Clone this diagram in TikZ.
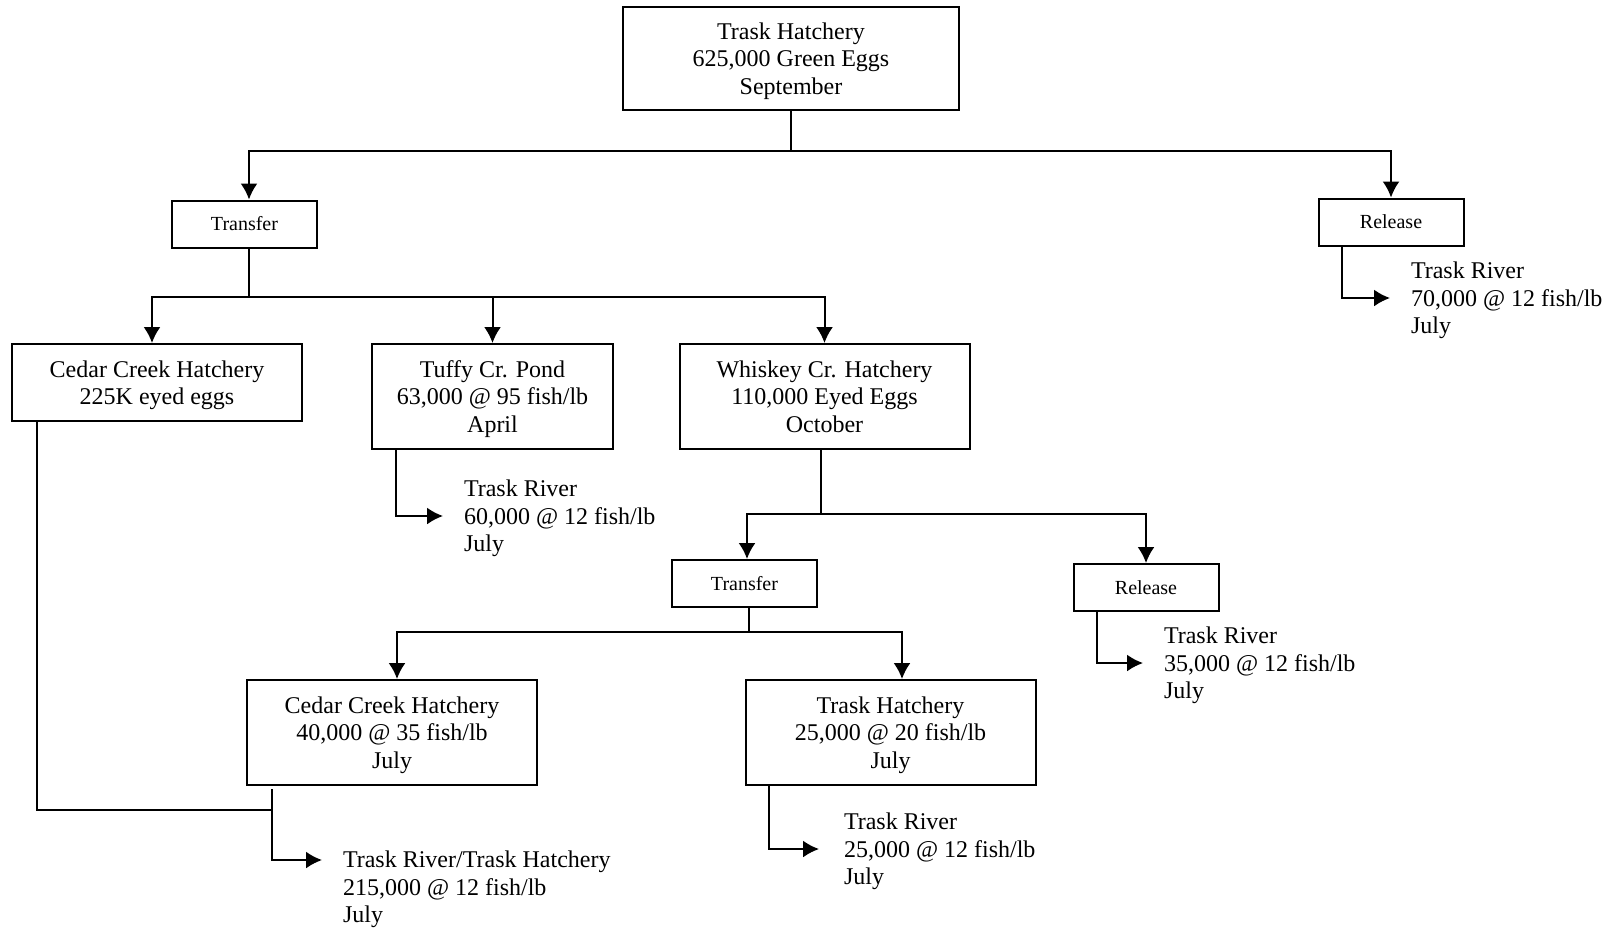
\documentclass[tikz,border=0pt]{standalone}
\usepackage{fontspec}
\setmainfont{Liberation Serif}
\usepackage{tikz}
\usetikzlibrary{arrows.meta, positioning}

\begin{document}
\begin{tikzpicture}[x=0.5pt,y=-0.5pt,>={Latex[length=8pt,width=8.5pt]},line join=miter,
    box/.style={draw, line width=1bp, align=center, inner sep=0pt, text depth=0pt,
      font=\fontsize{12}{13.8}\selectfont},
    flowbox/.style={box, minimum width=145pt, minimum height=52.5pt},
    actbox/.style={draw, line width=1bp, inner sep=0pt,
      font=\fontsize{10}{12}\selectfont, minimum width=72.5pt, minimum height=23.5pt},
    outtext/.style={anchor=west, align=left, inner xsep=10pt, inner ysep=0pt, text depth=0pt,
      font=\fontsize{12}{13.8}\selectfont}]
  \pgfsetlinewidth{1bp}
  \useasboundingbox (0,0) rectangle (1615,928);
%%
  % Node: top
  \node[box, minimum width=168pt, minimum height=51.5pt] (top) at (791,58.5)
    {Trask Hatchery\\625,000 Green Eggs\\September};
  % Node: transfer, release
  \node[actbox] (tr1) at (244.5,224) {Transfer};
  \node[actbox] (rel1) at (1391,222) {Release};
  % Node: cedar, tuffy, whiskey
  \node[box, minimum width=145pt, minimum height=38.5pt] (cc1) at (157,382.5)
    {Cedar Creek Hatchery\\225K eyed eggs};
  \node[box, minimum width=120.5pt, minimum height=52.5pt] (tuffy) at (492.5,396.5)
    {Tuffy Cr. Pond\\63,000 @ 95 fish/lb\\April};
  \node[flowbox] (whiskey) at (824.5,396.5)
    {Whiskey Cr. Hatchery\\110,000 Eyed Eggs\\October};
  % Node: second transfer, release
  \node[actbox] (tr2) at (744.5,583.5) {Transfer};
  \node[actbox] (rel2) at (1146,587.5) {Release};
  % Node: cedar, trask
  \node[flowbox] (cc2) at (392,732.5)
    {Cedar Creek Hatchery\\40,000 @ 35 fish/lb\\July};
  \node[flowbox] (th2) at (890.5,732.5)
    {Trask Hatchery\\25,000 @ 20 fish/lb\\July};
  % Node: outputs
  \node[outtext] (out1) at (1390,298) {Trask River\\70,000 @ 12 fish/lb\\July};
  \node[outtext] (out2) at (443,516) {Trask River\\60,000 @ 12 fish/lb\\July};
  \node[outtext] (out3) at (1143,663) {Trask River\\35,000 @ 12 fish/lb\\July};
  \node[outtext, inner xsep=12pt] (out4) at (819,849) {Trask River\\25,000 @ 12 fish/lb\\July};
  \node[outtext] (out5) at (322,887) {Trask River/Trask Hatchery\\215,000 @ 12 fish/lb\\July};
  % junctions
  \coordinate (bus1) at (791,151);
  \coordinate (bus2) at (249,297);
  \coordinate (bus3) at (821,514);
  \coordinate (bus4) at (749,632);
  \coordinate (merge) at (273,810);
%%
  % Edge: top -- tr1, rel1
  \draw (top.south) -- (bus1);
  \draw[->] (bus1) -| ([xshift=2.25pt]tr1.north);
  \draw[->] (bus1) -| (rel1.north);
  % Edge: tr1 -- cc1, tuffy, whiskey
  \draw ([xshift=2.25pt]tr1.south) -- (bus2);
  \draw[->] (bus2) -| ([xshift=-2.5pt]cc1.north);
  \draw[->] (bus2) -| (tuffy.north);
  \draw[->] (bus2) -| (whiskey.north);
  % Edge: whiskey -- tr2, rel2
  \draw ([xshift=-1.75pt]whiskey.south) -- (bus3);
  \draw[->] (bus3) -| ([xshift=1.25pt]tr2.north);
  \draw[->] (bus3) -| (rel2.north);
  % Edge: tr2 -- cc2, th2
  \draw ([xshift=2.25pt]tr2.south) -- (bus4);
  \draw[->] (bus4) -| ([xshift=2.5pt]cc2.north);
  \draw[->] (bus4) -| ([xshift=5.75pt]th2.north);
  % Edge: releases to river
  \draw[->] ([xshift=12pt]rel1.south west) |- (out1.west);
  \draw[->] ([xshift=12.5pt]tuffy.south west) |- (out2.west);
  \draw[->] ([xshift=12pt]rel2.south west) |- (out3.west);
  \draw[->] ([xshift=12pt]th2.south west) |- (out4.west);
  % Edge: cc1, cc2 -- out5
  \draw ([xshift=13pt]cc1.south west) |- (merge);
  \draw[->] ([xshift=13pt,yshift=-1.5pt]cc2.south west) |- ([yshift=13.5pt]out5.west);
%
\end{tikzpicture}
\end{document}
